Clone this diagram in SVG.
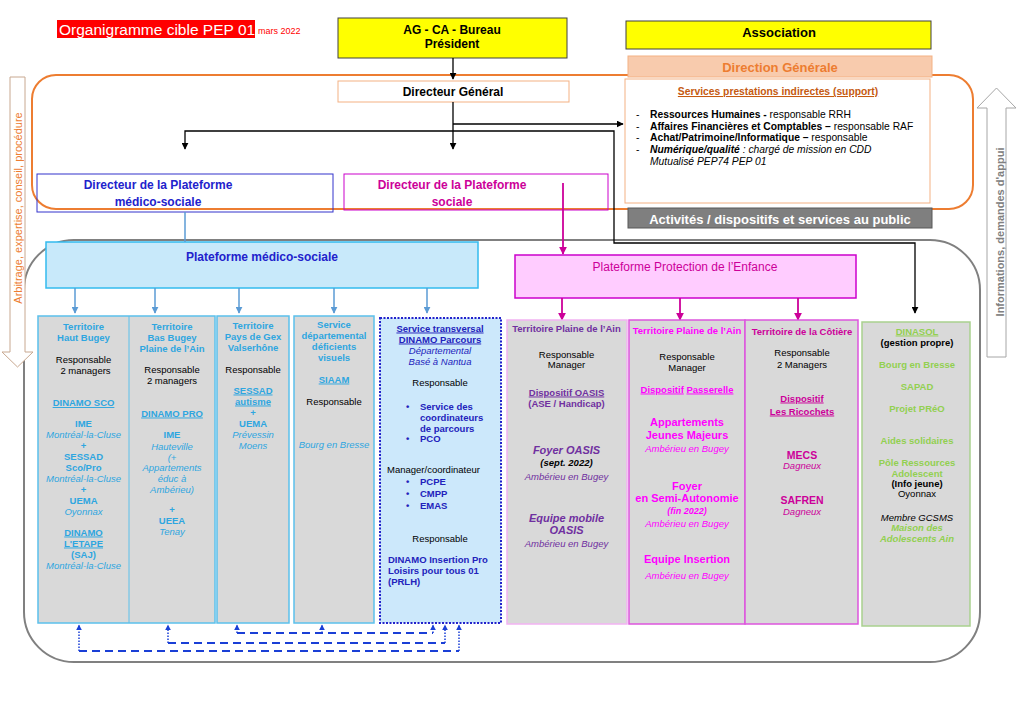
<svg xmlns="http://www.w3.org/2000/svg" width="1024" height="708" viewBox="0 0 1024 708">
<defs>
<style>
text{font-family:"Liberation Sans",Arial,sans-serif;font-size:9.5px}
.c{text-anchor:middle}.b{font-weight:bold}.i{font-style:italic}.u{text-decoration:underline}
.k{fill:#000}.lb{fill:#2ea6e0}.db{fill:#2222bb}.pu{fill:#7030a0}.mg{fill:#f0f}.dm{fill:#cc0099}.gr{fill:#92d050}
.s{font-size:10.3px}
.col{fill:#d9d9d9;stroke-width:1.5}
</style>
<marker id="ak" viewBox="0 0 10 10" refX="9" refY="5" markerWidth="7" markerHeight="7" orient="auto-start-reverse" markerUnits="userSpaceOnUse"><path d="M0,0L10,5L0,10z" fill="#000"/></marker>
<marker id="ab" viewBox="0 0 10 10" refX="9" refY="5" markerWidth="7" markerHeight="7" orient="auto" markerUnits="userSpaceOnUse"><path d="M0,0L10,5L0,10z" fill="#5b9bd5"/></marker>
<marker id="am" viewBox="0 0 10 10" refX="9" refY="5" markerWidth="8" markerHeight="8" orient="auto" markerUnits="userSpaceOnUse"><path d="M0,0L10,5L0,10z" fill="#cc0099"/></marker>
<marker id="ad" viewBox="0 0 10 10" refX="9" refY="5" markerWidth="6" markerHeight="6" orient="auto" markerUnits="userSpaceOnUse"><path d="M0,0L10,5L0,10z" fill="#1a3fd6"/></marker>
</defs>
<rect width="1024" height="708" fill="#fff"/>

<!-- background frames -->
<rect x="24" y="240" width="956" height="422" rx="50" fill="none" stroke="#808080" stroke-width="2"/>
<rect x="32" y="75" width="941" height="134" rx="24" fill="none" stroke="#ed7d31" stroke-width="2"/>

<!-- side arrows -->
<g id="arrow-left">
<path d="M10,77H25V352H33L17.5,367L2,352H10Z" fill="#fff" stroke="#c8a890" stroke-width="1"/>
<text transform="translate(18,208) rotate(-90)" x="0" y="4" class="c" style="font-size:11px;fill:#ed7d31">Arbitrage, expertise, conseil, procédure</text>
</g>
<g id="arrow-right">
<path d="M987,357V108H977L996.5,88L1016,108H1006V357Z" fill="#fff" stroke="#a6a6a6" stroke-width="1"/>
<text transform="translate(1000,232) rotate(-90)" x="0" y="4" class="c b" style="font-size:11px;fill:#808080">Informations, demandes d'appui</text>
</g>

<!-- title -->
<g id="title">
<rect x="57" y="20" width="198" height="18" fill="#ff0000"/>
<text x="59" y="35" style="font-size:15.5px;fill:#fff">Organigramme cible PEP 01</text>
<text x="258" y="34" style="font-size:9px;fill:#ff0000">mars 2022</text>
</g>

<g id="ag">
<rect x="338" y="18" width="229" height="40" fill="#ffff00" stroke="#404040" stroke-width="1"/>
<text x="452" y="34" class="c b" style="font-size:12px">AG - CA - Bureau</text>
<text x="452" y="48" class="c b" style="font-size:12px">Président</text>
</g>
<g id="association">
<rect x="626" y="21" width="305" height="28" fill="#ffff00" stroke="#404040" stroke-width="1"/>
<text x="779" y="37" class="c b" style="font-size:13px">Association</text>
</g>
<g id="direction-generale">
<rect x="628" y="56" width="304" height="21" fill="#f8cbad" stroke="#f4b183" stroke-width="1"/>
<text x="780" y="72" class="c b" style="font-size:13px;fill:#ed7d31">Direction Générale</text>
</g>
<g id="directeur-general">
<rect x="338" y="81" width="231" height="21" fill="#fff" stroke="#f4b183" stroke-width="1"/>
<text x="453" y="96" class="c b" style="font-size:12px">Directeur Général</text>
</g>
<g id="services">
<rect x="625" y="79" width="305" height="124" fill="#fff" stroke="#f4b183" stroke-width="1"/>
<text x="778" y="95" class="c b u" style="font-size:10.3px;fill:#c55a11">Services prestations indirectes (support)</text>
<text x="636" y="118" class="s">-</text><text x="650" y="118" class="s"><tspan class="b">Ressources Humaines -</tspan> responsable RRH</text>
<text x="636" y="129.5" class="s">-</text><text x="650" y="129.5" class="s"><tspan class="b">Affaires Financières et Comptables –</tspan> responsable RAF</text>
<text x="636" y="141" class="s">-</text><text x="650" y="141" class="s"><tspan class="b">Achat/Patrimoine/Informatique –</tspan> responsable</text>
<text x="636" y="153" class="s">-</text><text x="650" y="153" class="s i"><tspan class="b">Numérique/qualité</tspan> : chargé de mission en CDD</text>
<text x="650" y="165" class="s i">Mutualisé PEP74 PEP 01</text>
</g>
<g id="activites">
<rect x="628" y="208" width="304" height="20" fill="#7f7f7f" stroke="#595959" stroke-width="1"/>
<text x="780" y="223.5" class="c b" style="font-size:13px;fill:#fff">Activités / dispositifs et services au public</text>
</g>

<g id="dir-medico">
<rect x="37" y="174" width="296" height="38" fill="none" stroke="#3333cc" stroke-width="1"/>
<text x="158" y="189" class="c b" style="font-size:12px;fill:#2222cc">Directeur de la Plateforme</text>
<text x="158" y="206" class="c b" style="font-size:12px;fill:#2222cc">médico-sociale</text>
</g>
<g id="dir-sociale">
<rect x="344" y="174" width="264" height="36" fill="none" stroke="#cc00cc" stroke-width="1"/>
<text x="452" y="189" class="c b" style="font-size:12px;fill:#cc0099">Directeur de la Plateforme</text>
<text x="452" y="206" class="c b" style="font-size:12px;fill:#cc0099">sociale</text>
</g>

<g id="plateforme-medico">
<rect x="46" y="242" width="432" height="46" fill="#c8e9fa" stroke="#33bbee" stroke-width="1.5"/>
<text x="262" y="261" class="c b" style="font-size:12px;fill:#2222cc">Plateforme médico-sociale</text>
</g>
<g id="plateforme-pe">
<rect x="515" y="255" width="341" height="43" fill="#ffccff" stroke="#cc00cc" stroke-width="1.5"/>
<text x="685" y="271" class="c" style="font-size:12px;fill:#cc0099">Plateforme Protection de l’Enfance</text>
</g>

<!-- connectors -->
<g id="connectors" fill="none">
<g stroke="#000" stroke-width="1.3">
<path d="M453,58V79" marker-end="url(#ak)"/>
<path d="M453,102V149" marker-end="url(#ak)"/>
<path d="M453,124H623" marker-end="url(#ak)"/>
<path d="M185,149V131H614V243H915V313" marker-start="url(#ak)" marker-end="url(#ak)"/>
</g>
<g stroke="#5b9bd5" stroke-width="1.5">
<path d="M185,212V242"/>
<path d="M75,288V313" marker-end="url(#ab)"/>
<path d="M155,288V313" marker-end="url(#ab)"/>
<path d="M239,288V313" marker-end="url(#ab)"/>
<path d="M334,288V313" marker-end="url(#ab)"/>
<path d="M427,288V313" marker-end="url(#ab)"/>
</g>
<g stroke="#cc0099" stroke-width="1.8">
<path d="M563,183V254" marker-end="url(#am)"/>
<path d="M562,298V320" marker-end="url(#am)"/>
<path d="M680,298V320" marker-end="url(#am)"/>
<path d="M798,298V320" marker-end="url(#am)"/>
</g>
<g stroke="#1a3fd6">
<g stroke-width="1.5" stroke-dasharray="1.5,1.5">
<path d="M79,651V625" marker-end="url(#ad)"/>
<path d="M459,651V625" marker-end="url(#ad)"/>
<path d="M168,643V625" marker-end="url(#ad)"/>
<path d="M445,643V625" marker-end="url(#ad)"/>
<path d="M237,633V625" marker-end="url(#ad)"/>
<path d="M322,633V625" marker-end="url(#ad)"/>
<path d="M433,633V625" marker-end="url(#ad)"/>
</g>
<g stroke-width="2" stroke-dasharray="8,5">
<path d="M79,651H459"/>
<path d="M168,643H445"/>
<path d="M237,633H433"/>
</g>
</g>
</g>

<!-- columns -->
<g id="col-haut-bugey">
<rect x="38" y="316" width="177" height="307" class="col" stroke="#5bc0eb"/>
<line x1="129" y1="316" x2="129" y2="623" stroke="#5bc0eb" stroke-width="1"/>
<g class="c" transform="translate(83.5,0)">
<text y="330" class="b lb">Territoire</text>
<text y="341" class="b lb">Haut Bugey</text>
<text y="362.5" class="k">Responsable</text>
<text x="2" y="374" class="k">2 managers</text>
<text y="406" class="b u lb">DINAMO SCO</text>
<text y="427" class="b lb">IME</text>
<text y="437.5" class="i lb">Montréal-la-Cluse</text>
<text y="448.5" class="b lb">+</text>
<text y="459.5" class="b lb">SESSAD</text>
<text y="470.5" class="b lb">Sco/Pro</text>
<text y="481.5" class="i lb">Montréal-la-Cluse</text>
<text y="492.5" class="b lb">+</text>
<text y="503.5" class="b lb">UEMA</text>
<text y="514.5" class="i lb">Oyonnax</text>
<text y="535.5" class="b u lb">DINAMO</text>
<text y="546.5" class="b u lb">L'ETAPE</text>
<text y="557.5" class="b lb">(SAJ)</text>
<text y="568.5" class="i lb">Montréal-la-Cluse</text>
</g>
</g>
<g id="col-bas-bugey">
<g class="c" transform="translate(172,0)">
<text y="330" class="b lb">Territoire</text>
<text y="341" class="b lb">Bas Bugey</text>
<text y="352" class="b lb">Plaine de l’Ain</text>
<text y="373" class="k">Responsable</text>
<text y="384" class="k">2 managers</text>
<text y="416.5" class="b u lb">DINAMO PRO </text>
<text y="437.5" class="b lb">IME</text>
<text y="449.5" class="i lb">Hauteville</text>
<text y="460.5" class="i lb">(+</text>
<text y="470.5" class="i lb">Appartements</text>
<text y="481.5" class="i lb">éduc à</text>
<text y="492.5" class="i lb">Ambérieu)</text>
<text y="512.5" class="b lb">+</text>
<text y="523.5" class="b lb">UEEA</text>
<text y="534.5" class="i lb">Tenay</text>
</g>
</g>
<g id="col-gex">
<rect x="217" y="316" width="72" height="307" class="col" stroke="#5bc0eb"/>
<g class="c" transform="translate(253,0)">
<text y="328.5" class="b lb">Territoire</text>
<text y="339.5" class="b lb">Pays de Gex</text>
<text y="350.5" class="b lb">Valserhône</text>
<text y="372.5" class="k">Responsable</text>
<text y="393.5" class="b u lb">SESSAD</text>
<text y="404.5" class="b u lb">autisme</text>
<text y="415.5" class="b lb">+</text>
<text y="426.5" class="b lb">UEMA</text>
<text y="437.5" class="i lb">Prévessin</text>
<text y="448.5" class="i lb">Moens</text>
</g>
</g>
<g id="col-visuels">
<rect x="294" y="316" width="80" height="307" class="col" stroke="#5bc0eb"/>
<g class="c" transform="translate(334,0)">
<text y="327.5" class="b lb">Service</text>
<text y="338.5" class="b lb">départemental</text>
<text y="349.5" class="b lb">déficients</text>
<text y="360.5" class="b lb">visuels</text>
<text y="382.5" class="b u lb">SIAAM</text>
<text y="404.5" class="k">Responsable</text>
<text y="447.5" class="i lb">Bourg en Bresse</text>
</g>
</g>
<g id="col-parcours">
<rect x="380" y="318" width="121" height="305" fill="#cce8fb" stroke="#2222cc" stroke-width="2" stroke-dasharray="2,1.5"/>
<g class="c" transform="translate(440,0)">
<text y="331.5" class="b u db">Service transversal</text>
<text y="342.5" class="b u db">DINAMO Parcours</text>
<text y="353.5" class="i db">Départemental</text>
<text y="364.5" class="i db">Basé à Nantua</text>
<text y="385.5" class="k">Responsable</text>
<text y="542" class="k">Responsable</text>
</g>
<g class="b db">
<text x="406" y="409.5">•</text><text x="420" y="409.5">Service des</text>
<text x="420" y="420.5">coordinateurs</text>
<text x="420" y="431.5">de parcours</text>
<text x="406" y="442">•</text><text x="420" y="442">PCO</text>
<text x="406" y="485">•</text><text x="420" y="485">PCPE</text>
<text x="406" y="497">•</text><text x="420" y="497">CMPP</text>
<text x="406" y="508.5">•</text><text x="420" y="508.5">EMAS</text>
<text x="388" y="562.5">DINAMO Insertion Pro</text>
<text x="388" y="573.5">Loisirs pour tous 01</text>
<text x="388" y="584.5">(PRLH)</text>
</g>
<text x="387" y="472.5" class="k">Manager/coordinateur</text>
</g>
<g id="col-oasis">
<rect x="507" y="320" width="120" height="304" class="col" stroke="#f2b3f2"/>
<g class="c" transform="translate(566.5,0)">
<text y="332" class="b pu">Territoire Plaine de l’Ain</text>
<text y="357.5" class="k">Responsable</text>
<text y="367.5" class="k">Manager</text>
<text y="395.5" class="b u pu">Dispositif   OASIS</text>
<text y="406.5" class="b pu">(ASE / Handicap)</text>
<text y="454" class="b i pu" style="font-size:11px">Foyer OASIS</text>
<text y="465.5" class="b i k">(sept. 2022)</text>
<text y="479.5" class="i pu">Ambérieu en Bugey</text>
<text y="522" class="b i pu" style="font-size:11px">Equipe mobile</text>
<text y="533.5" class="b i pu" style="font-size:11px">OASIS</text>
<text y="546.5" class="i pu">Ambérieu en Bugey</text>
</g>
</g>
<g id="col-passerelle">
<rect x="629" y="320" width="116" height="304" class="col" stroke="#dd55dd"/>
<g class="c" transform="translate(687,0)">
<text y="333.5" class="b mg">Territoire Plaine de l’Ain</text>
<text y="359.5" class="k">Responsable</text>
<text y="370.5" class="k">Manager</text>
<text y="392.5" class="b mg"><tspan class="u">Dispositif</tspan> <tspan class="u">Passerelle</tspan></text>
<text y="426" class="b mg" style="font-size:11px">Appartements</text>
<text y="439" class="b mg" style="font-size:11px">Jeunes Majeurs</text>
<text y="451.5" class="i mg">Ambérieu en Bugey</text>
<text y="490" class="b mg" style="font-size:11px">Foyer</text>
<text y="502" class="b mg" style="font-size:11px">en Semi-Autonomie</text>
<text y="513.5" class="b i mg" style="font-size:9px">(fin 2022)</text>
<text y="526.5" class="i mg">Ambérieu en Bugey</text>
<text y="563" class="b mg" style="font-size:11px">Equipe Insertion</text>
<text y="578.5" class="i mg">Ambérieu en Bugey</text>
</g>
</g>
<g id="col-cotiere">
<rect x="745" y="320" width="113" height="304" class="col" stroke="#dd55dd"/>
<g class="c" transform="translate(802,0)">
<text y="334.5" class="b dm">Territoire de la Côtière</text>
<text y="355.5" class="k">Responsable</text>
<text y="367.5" class="k">2 Managers</text>
<text y="401.5" class="b u dm">Dispositif </text>
<text y="414.5" class="b u dm">Les Ricochets</text>
<text y="458.5" class="b dm" style="font-size:10.5px">MECS</text>
<text y="468.5" class="i dm">Dagneux</text>
<text y="503.5" class="b dm" style="font-size:10.5px">SAFREN</text>
<text y="514.5" class="i dm">Dagneux</text>
</g>
</g>
<g id="col-dinasol">
<rect x="862" y="322" width="108" height="304" class="col" stroke="#a9d18e"/>
<g class="c" transform="translate(917,0)">
<text y="334.5" class="b u gr">DINASOL</text>
<text y="345.5" class="b k">(gestion propre)</text>
<text y="367.5" class="b gr">Bourg en Bresse</text>
<text y="389.5" class="b gr">SAPAD</text>
<text y="411.5" class="b gr">Projet PRéO</text>
<text y="443.5" class="b gr">Aides solidaires</text>
<text y="465.5" class="b gr">Pôle Ressources</text>
<text y="476.5" class="b gr">Adolescent</text>
<text y="486.5" class="b k">(Info jeune)</text>
<text y="496.5" class="k">Oyonnax</text>
<text y="520.5" class="i k">Membre GCSMS</text>
<text y="530.5" class="b i gr">Maison des</text>
<text y="541.5" class="b i gr">Adolescents Ain</text>
</g>
</g>
</svg>
